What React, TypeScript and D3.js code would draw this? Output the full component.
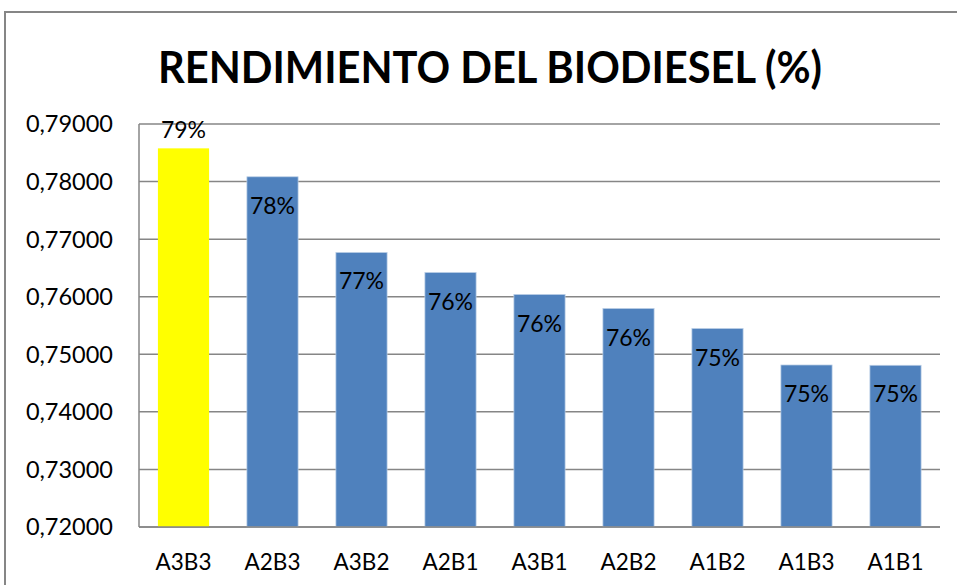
import * as d3 from "d3";

const categories = ["A3B3", "A2B3", "A3B2", "A2B1", "A3B1", "A2B2", "A1B2", "A1B3", "A1B1"];
const values = [0.78577, 0.78083, 0.76768, 0.7642, 0.76038, 0.75795, 0.75447, 0.74814, 0.74809];
const labels = ["79%", "78%", "77%", "76%", "76%", "76%", "75%", "75%", "75%"];
const yTicks = [0.72, 0.73, 0.74, 0.75, 0.76, 0.77, 0.78, 0.79];
const highlight = "A3B3";

const W = 957;
const H = 585;
const margin = { top: 124, right: 17, bottom: 58, left: 139 };
const font = "Lato, 'Open Sans', sans-serif";

export default function App() {
  const innerW = W - margin.left - margin.right;
  const innerH = H - margin.top - margin.bottom;

  const x = d3.scaleBand().domain(categories).range([0, innerW]).paddingInner(0.425).paddingOuter(0.2125);
  const y = d3.scaleLinear().domain([0.72, 0.79]).range([innerH, 0]);
  const fmt = (v: number) => v.toFixed(5).replace(".", ",");

  return (
    <svg
      width={W}
      height={H}
      style={{ position: "absolute", left: 0, top: 0, background: "#fff" }}
    >
      <rect x={5} y={12} width={W + 10} height={H + 10} fill="#fff" stroke="#868686" strokeWidth={2} />
      <text
        x={490}
        y={83}
        textAnchor="middle"
        fontFamily={font}
        fontWeight={700}
        fontSize={43}
        textLength={664}
        lengthAdjust="spacingAndGlyphs"
        fill="#000"
      >
        RENDIMIENTO DEL BIODIESEL (%)
      </text>
      <g transform={`translate(${margin.left},${margin.top})`}>
        {yTicks.map((t) => (
          <g key={t}>
            <line x1={0} x2={innerW} y1={y(t)} y2={y(t)} stroke="#868686" strokeWidth={1.5} />
            <text
              x={-26}
              y={y(t)}
              dy="0.36em"
              textAnchor="end"
              fontFamily={font}
              fontSize={23.5}
              fill="#000"
            >
              {fmt(t)}
            </text>
          </g>
        ))}
        <line x1={0} x2={0} y1={0} y2={innerH} stroke="#868686" strokeWidth={1.5} />
        {categories.map((c, i) => {
          const bx = x(c) ?? 0;
          const top = y(values[i]);
          const isHi = c === highlight;
          return (
            <g key={c}>
              <rect
                x={bx}
                y={top}
                width={x.bandwidth()}
                height={innerH - top}
                fill={isHi ? "#FFFF00" : "#4F81BD"}
                stroke={isHi ? "none" : "#B9CDE5"}
                strokeWidth={0.75}
              />
              <text
                x={bx + x.bandwidth() / 2}
                y={isHi ? top - 10 : top + 37}
                textAnchor="middle"
                fontFamily={font}
                fontSize={23}
                fill="#000"
              >
                {labels[i]}
              </text>
              <text
                x={bx + x.bandwidth() / 2}
                y={innerH + 43}
                textAnchor="middle"
                fontFamily={font}
                fontSize={22.5}
                fill="#000"
              >
                {c}
              </text>
            </g>
          );
        })}
        <line x1={0} x2={innerW} y1={innerH} y2={innerH} stroke="#868686" strokeWidth={1.5} />
      </g>
    </svg>
  );
}
